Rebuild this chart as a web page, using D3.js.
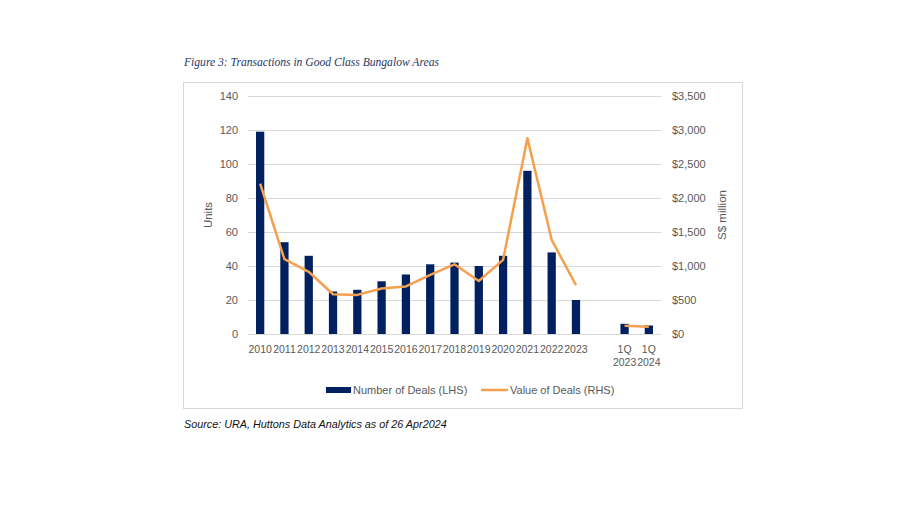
<!DOCTYPE html>
<html lang="en">
<head>
<meta charset="utf-8">
<title>Transactions in Good Class Bungalow Areas</title>
<script src="https://cdn.jsdelivr.net/npm/d3@7"></script>
<style>
  body { margin: 0; background: #fff; }
  #chart { width: 900px; height: 507px; }
  text { font-family: "Liberation Sans", "DejaVu Sans", sans-serif; }
</style>
</head>
<body>
<div id="chart"></div>
<script>
// data
var categories = ["2010", "2011", "2012", "2013", "2014", "2015", "2016", "2017", "2018",
                  "2019", "2020", "2021", "2022", "2023", "", "1Q 2023", "1Q 2024"];
var deals = [119, 54, 46, 25, 26, 31, 35, 41, 42, 40, 46, 96, 48, 20, null, 6, 5];
var values = [2210, 1100, 915, 585, 575, 670, 700, 870, 1025, 780, 1090, 2880, 1385, 720, null, 120, 105];
var leftTicks = [0, 20, 40, 60, 80, 100, 120, 140];
var rightTicks = [0, 500, 1000, 1500, 2000, 2500, 3000, 3500];

var navy = "#002060", orange = "#F4A04D", grey = "#595959";

var svg = d3.select("#chart").append("svg")
    .attr("width", 900)
    .attr("height", 507);

// title
svg.append("text")
    .attr("x", 184).attr("y", 66)
    .style("font-family", "'Liberation Serif', 'DejaVu Serif', serif")
    .style("font-style", "italic")
    .style("font-size", "11.6px")
    .style("fill", "#1F3864")
    .text("Figure 3: Transactions in Good Class Bungalow Areas");

// frame
svg.append("rect")
    .attr("x", 183.5).attr("y", 82.5)
    .attr("width", 559).attr("height", 326)
    .style("fill", "none")
    .style("stroke", "#d9d9d9")
    .style("stroke-width", 1);

var plotLeft = 248, plotRight = 661, plotTop = 96, plotBottom = 334;

var x = d3.scaleBand()
    .domain(d3.range(categories.length))
    .range([plotLeft, plotRight])
    .paddingInner(0.66)
    .paddingOuter(0.33);

var y = d3.scaleLinear().domain([0, 140]).range([plotBottom, plotTop]);
var y2 = d3.scaleLinear().domain([0, 3500]).range([plotBottom, plotTop]);

// grid lines
svg.append("g")
    .selectAll("line")
    .data(leftTicks)
    .enter()
    .append("line")
    .attr("x1", plotLeft).attr("x2", plotRight)
    .attr("y1", function(d) { return Math.round(y(d)) + 0.5; })
    .attr("y2", function(d) { return Math.round(y(d)) + 0.5; })
    .style("stroke", "#d9d9d9")
    .style("stroke-width", 1);

// left axis
var yAxis = d3.axisLeft(y).tickValues(leftTicks).tickSize(0).tickPadding(10);
var gl = svg.append("g")
    .attr("transform", "translate(" + plotLeft + ",0)")
    .call(yAxis);
gl.select(".domain").remove();
gl.selectAll("text")
    .attr("x", -10)
    .style("font-size", "11px")
    .style("fill", grey);

// right axis
var yAxis2 = d3.axisRight(y2).tickValues(rightTicks).tickSize(0)
    .tickFormat(function(d) { return "$" + d3.format(",")(d); });
var gr = svg.append("g")
    .attr("transform", "translate(672,0)")
    .call(yAxis2);
gr.select(".domain").remove();
gr.selectAll("text")
    .attr("x", 0)
    .style("font-size", "11px")
    .style("fill", grey);

// axis titles
svg.append("text")
    .attr("transform", "translate(212,215) rotate(-90)")
    .style("text-anchor", "middle")
    .style("font-size", "11.5px")
    .style("fill", grey)
    .text("Units");

svg.append("text")
    .attr("transform", "translate(726,215) rotate(-90)")
    .style("text-anchor", "middle")
    .style("font-size", "11.5px")
    .style("fill", grey)
    .text("S$ million");

// bars (keep the category index, skip the empty slot)
var barData = deals.map(function(v, i) { return { i: i, v: v }; })
    .filter(function(d) { return d.v !== null; });

svg.append("g")
    .selectAll("rect")
    .data(barData)
    .enter()
    .append("rect")
    .attr("x", function(d) { return x(d.i); })
    .attr("width", x.bandwidth())
    .attr("y", function(d) { return y(d.v); })
    .attr("height", function(d) { return plotBottom - y(d.v); })
    .style("fill", navy);

// x labels
var xl = svg.append("g")
    .selectAll("text")
    .data(categories)
    .enter()
    .append("text")
    .attr("x", function(d, i) { return x(i) + x.bandwidth() / 2; })
    .attr("y", 353)
    .style("text-anchor", "middle")
    .style("font-size", "10.5px")
    .style("fill", grey);
xl.each(function(d) {
    var parts = d.split(" ");
    var t = d3.select(this);
    parts.forEach(function(p, k) {
        t.append("tspan")
            .attr("x", t.attr("x"))
            .attr("dy", k === 0 ? 0 : 13)
            .text(p);
    });
});

// line
var line = d3.line()
    .defined(function(d) { return d !== null; })
    .x(function(d, i) { return x(i) + x.bandwidth() / 2; })
    .y(function(d) { return y2(d); });

svg.append("path")
    .datum(values)
    .attr("d", line)
    .style("fill", "none")
    .style("stroke", orange)
    .style("stroke-width", 2.5)
    .style("stroke-linejoin", "round");

// legend
var leg = svg.append("g");
leg.append("rect")
    .attr("x", 326).attr("y", 387)
    .attr("width", 25).attr("height", 6)
    .style("fill", navy);
leg.append("text")
    .attr("x", 353).attr("y", 394)
    .style("font-size", "11px")
    .style("fill", grey)
    .text("Number of Deals (LHS)");
leg.append("line")
    .attr("x1", 481).attr("x2", 508)
    .attr("y1", 390).attr("y2", 390)
    .style("stroke", orange)
    .style("stroke-width", 2.5);
leg.append("text")
    .attr("x", 510).attr("y", 394)
    .style("font-size", "11px")
    .style("fill", grey)
    .text("Value of Deals (RHS)");

// source
svg.append("text")
    .attr("x", 184).attr("y", 428)
    .style("font-style", "italic")
    .style("font-size", "10.8px")
    .style("fill", "#111")
    .text("Source: URA, Huttons Data Analytics as of 26 Apr2024");
</script>
</body>
</html>
